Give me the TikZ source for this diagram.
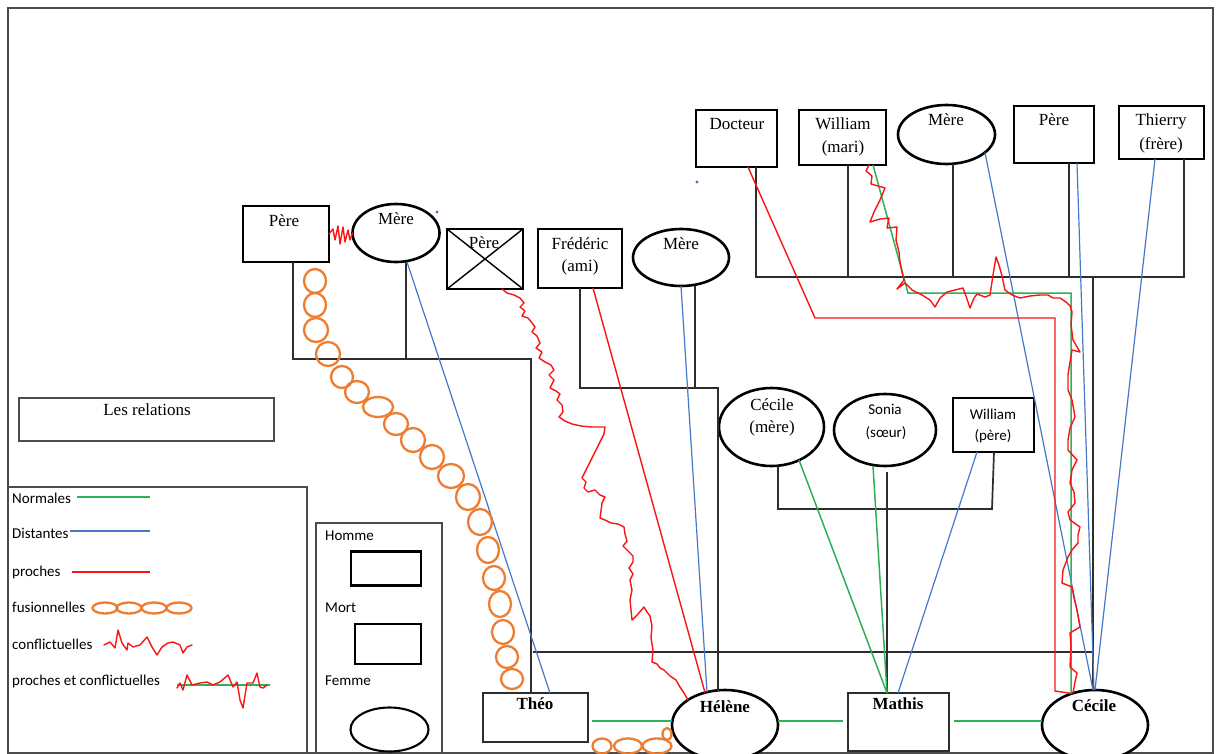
\documentclass[tikz,border=0pt]{standalone}
\usepackage{fontspec}
\setmainfont{Liberation Serif}
\newfontfamily\calfont{Carlito}
\usetikzlibrary{shapes.geometric}
\definecolor{relgreen}{RGB}{46,176,86}
\definecolor{relblue}{RGB}{70,120,200}
\definecolor{relred}{RGB}{250,20,20}
\definecolor{relorange}{RGB}{237,125,49}
\definecolor{famgray}{RGB}{45,45,45}
\definecolor{framegray}{RGB}{75,75,75}
\begin{document}
\begin{tikzpicture}[x=1pt,y=-1pt,
  person/.style={draw=black, line width=2.6pt, fill=white, inner sep=0pt, outer sep=0pt},
  manbox/.style={person, rectangle},
  womanoval/.style={person, ellipse},
  nm/.style={font=\fontsize{17}{20}\selectfont, inner sep=0pt, anchor=base},
  nmb/.style={nm, font=\fontsize{17}{20}\selectfont\bfseries},
  cal/.style={font=\calfont\fontsize{15}{18}\selectfont, inner sep=0pt, anchor=base},
  lg/.style={cal, anchor=base west},
  fam/.style={draw=famgray, line width=1.7pt},
  rnormal/.style={draw=relgreen, line width=1.5pt},
  rdist/.style={draw=relblue, line width=1.2pt},
  rclose/.style={draw=relred, line width=1.4pt},
  rconf/.style={draw=relred, line width=1.4pt, line join=round, line cap=round},
  rfus/.style={draw=relorange, line width=2.3pt},
  frameline/.style={draw=framegray, line width=1.9pt},
]
\useasboundingbox (0,0) rectangle (1221,754);
\fill[white] (0,0) rectangle (1221,754);
\draw[frameline] (8,8) rectangle (1213,753);

% ---------- people ----------
\node[manbox, minimum width=86pt, minimum height=56pt] (pereA) at (286,234) {};
\node[womanoval, minimum width=87pt, minimum height=58pt] (mereA) at (396,233) {};
\node[manbox, minimum width=76pt, minimum height=60pt] (pereX) at (485,259) {};
\node[manbox, minimum width=84pt, minimum height=59pt] (fred) at (580,258.5) {};
\node[womanoval, minimum width=96pt, minimum height=57pt] (mereB) at (681,257.5) {};
\node[manbox, minimum width=81pt, minimum height=57pt] (doc) at (736.5,138.5) {};
\node[manbox, minimum width=87pt, minimum height=55pt] (willM) at (842.5,137.5) {};
\node[womanoval, minimum width=97pt, minimum height=59pt] (mereC) at (946.5,134.5) {};
\node[manbox, minimum width=80pt, minimum height=57pt] (pereC) at (1054,134.5) {};
\node[manbox, minimum width=85pt, minimum height=53pt] (thierry) at (1161.5,132.5) {};
\node[womanoval, minimum width=105pt, minimum height=78pt] (cecM) at (771.5,427) {};
\node[womanoval, minimum width=102pt, minimum height=72pt] (sonia) at (885,430) {};
\node[manbox, minimum width=81pt, minimum height=54pt] (willP) at (993.5,425) {};
\node[manbox, draw=famgray, line width=2.2pt, minimum width=105pt, minimum height=49pt] (theo) at (535.5,717.5) {};
\node[womanoval, minimum width=106pt, minimum height=70pt] (helene) at (725,725) {};
\node[manbox, draw=famgray, line width=2.2pt, minimum width=101pt, minimum height=58pt] (mathis) at (898.5,722) {};
\node[womanoval, minimum width=106pt, minimum height=70pt] (cecile) at (1095,725) {};

% deceased father: crossed box
\draw[line width=1.4pt] (pereX.north west) -- (pereX.south east)
                        (pereX.north east) -- (pereX.south west);

% ---------- names ----------
\node[nm] (tPereA) at (284,227) {Père};
\node[nm] (tMereA) at (396,225) {Mère};
\node[nm] (tPereX) at (484,249) {Père};
\node[nm] (tFred1) at (580,250) {Frédéric};
\node[nm] (tFred2) at (580,272) {(ami)};
\node[nm] (tMereB) at (681,250) {Mère};
\node[nm] (tDoc) at (737,130) {Docteur};
\node[nm] (tWill1) at (843,130) {William};
\node[nm] (tWill2) at (843,153) {(mari)};
\node[nm] (tMereC) at (946,126) {Mère};
\node[nm] (tPereC) at (1054,126) {Père};
\node[nm] (tThi1) at (1161,126) {Thierry};
\node[nm] (tThi2) at (1161,150) {(frère)};
\node[nm] (tCec1) at (772,410) {Cécile};
\node[nm] (tCec2) at (772,432) {(mère)};
\node[cal] (tSon1) at (885,414) {Sonia};
\node[cal] (tSon2) at (886,437) {(sœur)};
\node[cal] (tWp1) at (993,419) {William};
\node[cal] (tWp2) at (993,440) {(père)};
\node[nmb] (tTheo) at (535,709) {Théo};
\node[nmb] (tHel) at (725,712) {Hélène};
\node[nmb] (tMat) at (898,709) {Mathis};
\node[nmb] (tCecB) at (1094,711) {Cécile};

% ---------- family lines ----------
\coordinate (jA) at (531,359);
\draw[fam] ([xshift=7pt]pereA.south) |- (jA) -- (jA |- theo.north);
\draw[fam] ([xshift=10pt]mereA.south) -- ++(0,97);
\coordinate (jB) at (718,388);
\draw[fam] (fred.south) |- (jB) -- ([shift={(-7,0.5)}]helene.north);
\draw[fam] ([xshift=14pt]mereB.south) -- ++(0,102);
\coordinate (sibL) at (533,652);
\coordinate (sibR) at (1093,652);
\draw[fam] (sibL) -- (sibR);
\coordinate (jC) at (1184,277);
\draw[fam] ([xshift=19.5pt]doc.south) |- (jC) -- (jC |- thierry.south);
\draw[fam] ([xshift=5.5pt]willM.south) -- ++(0,112);
\draw[fam] ([xshift=6.5pt]mereC.south) -- ++(0,113);
\draw[fam] ([xshift=15pt]pereC.south) -- ++(0,114);
\coordinate (jD) at (1093,277);
\draw[fam] (jD) -- ([shift={(-2,0)}]cecile.north);
\coordinate (jE) at (992,509);
\draw[fam] ([xshift=6.5pt]cecM.south) |- (jE) -- ([xshift=0.5pt]willP.south);
\draw[fam] ([shift={(2,6)}]sonia.south) -- ([xshift=-11.5pt]mathis.north);

% ---------- distant relations ----------
\draw[rdist] ([xshift=11pt]mereA.south) -- ([xshift=14.5pt]theo.north);
\draw[rdist] (mereB.south) -- ([shift={(-18,2)}]helene.north);
\draw[rdist] (mereC.-25) -- ([shift={(-2,0)}]cecile.north);
\draw[rdist] ([xshift=23pt]pereC.south) -- ([xshift=-1pt]cecile.north);
\draw[rdist] ([xshift=-6.5pt]thierry.south) -- (cecile.north);
\draw[rdist] ([xshift=-16.5pt]willP.south) -- ([xshift=-0.5pt]mathis.north);

% ---------- normal relations ----------
\draw[rnormal] ([shift={(27.5,-6)}]cecM.south) -- ([xshift=-11.5pt]mathis.north);
\draw[rnormal] ([shift={(-12,0)}]sonia.south) -- ([xshift=-11.5pt]mathis.north);
\draw[rnormal] ([shift={(4,3.5)}]theo.east) -- ([shift={(0,-4)}]helene.west);
\draw[rnormal] ([shift={(0,-4)}]helene.east) -- ([shift={(-5,-1)}]mathis.west);
\draw[rnormal] ([shift={(5,-1)}]mathis.east) -- ([shift={(0,-4)}]cecile.west);
\coordinate (gk1) at (908,293);
\coordinate (gk2) at (1071,293);
\draw[rnormal] ([xshift=30.5pt]willM.south) -- (gk1) -- (gk2) -- ([shift={(-24,4)}]cecile.north);

% ---------- close relations ----------
\draw[rclose] ([xshift=13pt]fred.south) -- ([shift={(-20,2.6)}]helene.north);
\coordinate (rk1) at (815,318);
\coordinate (rk2) at (1055,318);
\coordinate (rk3) at (1055,691);
\draw[rclose] ([xshift=11.5pt]doc.south) -- (rk1) -- (rk2) -- (rk3) -- ([shift={(-23,3.5)}]cecile.north);

% ---------- conflictual relations ----------
\draw[rconf] (pereA.east) -- (333,229) -- (335,240) -- (338,226) -- (340,244) -- (343,227)
  -- (345,242) -- (348,230) -- (350,240) -- (mereA.west);

\draw[rconf] ([xshift=17pt]pereX.south) -- (507,293) -- (514,295) -- (520,298) -- (524,303)
  -- (520,307) -- (525,311) -- (522,316) -- (528,318) -- (532,323) -- (535,327) -- (532,332)
  -- (537,336) -- (540,343) -- (536,348) -- (542,352) -- (539,358) -- (545,362) -- (551,365)
  -- (554,370) -- (549,375) -- (554,380) -- (550,388) -- (556,391) -- (560,394) -- (557,400)
  -- (562,405) -- (563,412) -- (559,417) -- (565,421) -- (572,424) -- (581,426) -- (592,427)
  -- (605,427) -- (604,434) -- (600,442) -- (594,454) -- (588,466) -- (582,478) -- (586,482)
  -- (584,488) -- (588,492) -- (595,490) -- (600,495) -- (605,497) -- (602,503) -- (601,511)
  -- (600,518) -- (605,520) -- (611,523) -- (618,524) -- (624,527) -- (625,534) -- (627,541)
  -- (623,546) -- (628,551) -- (633,556) -- (633,562) -- (629,568) -- (633,574) -- (630,580)
  -- (632,590) -- (630,600) -- (631,610) -- (632,620) -- (638,614) -- (644,607) -- (647,612)
  -- (650,616) -- (652,626) -- (651,638) -- (653,650) -- (652,662) -- (657,664) -- (660,668)
  -- (664,670) -- (670,676) -- (676,680) -- (680,687) -- (684,693) -- ([shift={(-37,10)}]helene.north);

\draw[rconf] ([xshift=26.5pt]willM.south) -- (866,171) -- (872,176) -- (871,184) -- (885,188)
  -- (880,200) -- (874,212) -- (870,222) -- (880,219) -- (889,218) -- (887,228) -- (897,227)
  -- (896,240) -- (899,252) -- (900,262) -- (902,272) -- (904,280) -- (897,289) -- (905,283)
  -- (912,290) -- (922,295) -- (930,300) -- (935,307) -- (940,298) -- (947,292) -- (955,290)
  -- (963,288) -- (966,296) -- (970,308) -- (974,298) -- (977,294) -- (985,297) -- (990,295)
  -- (993,275) -- (996,257) -- (999,265) -- (1002,276) -- (1005,290) -- (1012,295) -- (1020,298)
  -- (1030,296) -- (1040,295) -- (1048,295) -- (1053,298) -- (1060,298) -- (1066,302)
  -- (1070,306) -- (1072,312) -- (1071,325) -- (1073,340) -- (1080,352) -- (1072,350)
  -- (1070,362) -- (1068,375) -- (1068,390) -- (1072,400) -- (1075,417) -- (1070,428)
  -- (1068,440) -- (1068,450) -- (1077,460) -- (1072,470) -- (1070,483) -- (1074,492)
  -- (1075,503) -- (1068,512) -- (1070,520) -- (1080,527) -- (1078,535) -- (1078,543)
  -- (1072,550) -- (1068,557) -- (1063,570) -- (1062,583) -- (1072,587) -- (1074,598)
  -- (1077,610) -- (1080,627) -- (1070,633) -- (1071,645) -- (1070,667) -- (1077,673)
  -- (1075,682) -- ([shift={(-22,3)}]cecile.north);

% ---------- fusional relations ----------
\foreach \cx/\cy/\rx/\ry in {315/281/11/12, 315/305/11/12, 316/330/12/12, 328/354/12/12,
  342/377/11/11, 357/392/12/11, 378/407/15/10, 396/424/12/11, 413/440/12/12, 432/457/12/12,
  451/476/13/12, 468/497/12/13, 480/522/12/13, 488/550/11/13, 494/578/11/12, 500/604/11/13,
  503/632/11/12, 507/657/11/11, 512/679/11/10}
  \draw[rfus] (\cx,\cy) ellipse [x radius=\rx pt, y radius=\ry pt];
\foreach \cx/\cy/\rx/\ry in {602/746/9.5/7.5, 628/746/14/7.5, 657/746/14.5/7.5, 667/734/4.5/6}
  \draw[rfus] (\cx,\cy) ellipse [x radius=\rx pt, y radius=\ry pt];

% stray pen dots
\fill[relblue] (437,212) circle [radius=1.6pt];
\fill[relblue] (697,182) circle [radius=1.6pt];

% ---------- legend: relations ----------
\node[draw=framegray, line width=1.9pt, minimum width=255pt, minimum height=43pt, inner sep=0pt] (relbox) at (146.5,419.5) {};
\node[nm] (tRel) at (147,415) {Les relations};
\draw[frameline] (8,487) -- (307,487) -- (307,753);

\node[lg] (lgN) at (12,503) {Normales};
\draw[rnormal] (77,497) -- (150,497);
\node[lg] (lgD) at (12,538) {Distantes};
\draw[rdist] (70,531) -- (150,531);
\node[lg] (lgP) at (12,576) {proches};
\draw[rclose] (72,572) -- (150,572);
\node[lg] (lgF) at (12,612) {fusionnelles};
\foreach \cx in {105,129,154,179}
  \draw[rfus] (\cx,608) ellipse [x radius=12.5pt, y radius=5.5pt];
\node[lg] (lgC) at (12,649) {conflictuelles};
\draw[rconf] (104,645) -- (110,642) -- (115,648) -- (118,630) -- (122,643) -- (127,650) -- (128,643)
  -- (133,647) -- (140,645) -- (147,637) -- (152,647) -- (157,655) -- (162,647) -- (168,643)
  -- (173,642) -- (180,645) -- (183,653) -- (187,647) -- (192,645);
\node[lg] (lgPC) at (12,685) {proches et conflictuelles};
\draw[rnormal] (177,685) -- (270,685);
\draw[rconf] (177,688) -- (180,683) -- (183,690) -- (187,675) -- (192,685) -- (200,683) -- (207,682)
  -- (213,685) -- (220,682) -- (228,675) -- (233,687) -- (237,682) -- (240,700) -- (243,708)
  -- (247,683) -- (253,683) -- (257,673) -- (260,687) -- (263,688) -- (267,685);

% ---------- legend: symbols ----------
\draw[draw=framegray, line width=1.7pt] (316,760) -- (316,523) -- (442,523) -- (442,760);
\node[lg] (lgH) at (325,540) {Homme};
\node[draw=black, line width=2.3pt, minimum width=70pt, minimum height=34pt, inner sep=0pt] (lgHbox) at (386,568.5) {};
\node[lg] (lgM) at (325,612) {Mort};
\node[draw=black, line width=2.3pt, minimum width=66pt, minimum height=40pt, inner sep=0pt] (lgMbox) at (388,644) {};
\node[lg] (lgFe) at (325,685) {Femme};
\node[ellipse, draw=black, line width=2.1pt, minimum width=78pt, minimum height=44pt, inner sep=0pt] (lgFov) at (389.5,729.5) {};
\end{tikzpicture}
\end{document}
